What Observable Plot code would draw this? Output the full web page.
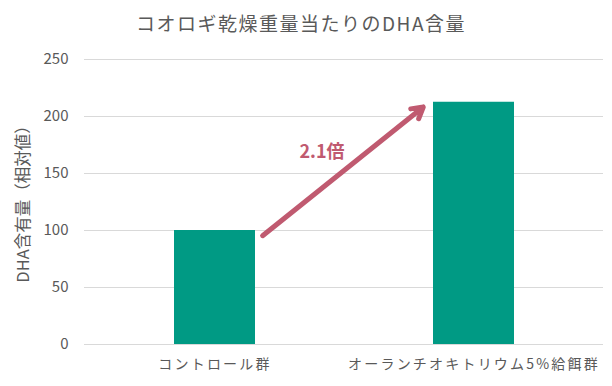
<!DOCTYPE html>
<html><head><meta charset="utf-8">
<script src="https://cdn.jsdelivr.net/npm/d3@7"></script>
<script src="https://cdn.jsdelivr.net/npm/@observablehq/plot@0.6"></script>
<style>
body{margin:0;background:#fff;font-family:"Noto Sans CJK JP","Noto Sans",sans-serif;}
#title{height:44px;line-height:46px;text-align:center;font-size:19px;color:#595959;padding-right:10px;letter-spacing:1.5px;}
g[aria-label="x-axis tick label"] text{letter-spacing:2.2px;}
</style></head>
<body>
<div id="title">コオロギ乾燥重量当たりのDHA含量</div>
<div id="chart"></div>
<script>
const categories = ["コントロール群", "オーランチオキトリウム5%給餌群"];
const values = [100, 212.5];
const yTicks = [0, 50, 100, 150, 200, 250];
const yLabel = "DHA含有量（相対値）";
const ratioLabel = "2.1倍";
// arrow: line through the two bar centres, endpoints
const arrowFrom = ["コントロール群", 62];
const arrowTo = ["オーランチオキトリウム5%給餌群", 244];

const data = categories.map((c, i) => ({category: c, value: values[i]}));
const gray = "#595959";

const chart = Plot.plot({
  width: 612,
  height: 342,
  marginTop: 15,
  marginBottom: 42,
  marginLeft: 84,
  marginRight: 9,
  style: {fontFamily: '"Noto Sans CJK JP","Noto Sans",sans-serif', fontSize: "13px", color: gray, background: "#fff"},
  x: {domain: categories, paddingInner: 0.688, paddingOuter: 0.344, align: 0.5},
  y: {domain: [0, 250]},
  marks: [
    Plot.gridY(yTicks, {stroke: "#d9d9d9", strokeOpacity: 1, strokeWidth: 1}),
    Plot.axisY(yTicks, {tickSize: 0, tickPadding: 16, fontSize: 15, fill: gray, label: null}),
    Plot.axisX({tickSize: 0, tickPadding: 15, fontSize: 14, fill: gray, label: null}),
    Plot.barY(data, {x: "category", y: "value", fill: "#009a84"}),
    Plot.ruleY([0], {stroke: "#d9d9d9"}),
    Plot.arrow([{x1: arrowFrom[0], y1: arrowFrom[1], x2: arrowTo[0], y2: arrowTo[1]}], {
      x1: "x1", y1: "y1", x2: "x2", y2: "y2",
      stroke: "#c05a70", strokeWidth: 5, headLength: 3.8, headAngle: 60,
      insetStart: 61, insetEnd: 65, strokeLinecap: "round", strokeLinejoin: "miter"
    }),
    Plot.text([ratioLabel], {x: () => categories[0], y: () => 169, dx: 107, text: d => d,
      fill: "#c05a70", fontSize: 18, fontWeight: "bold"}),
    Plot.text([yLabel], {frameAnchor: "left", dx: -61, dy: -2, rotate: -90, textAnchor: "middle", text: d => d,
      fill: gray, fontSize: 16.5})
  ]
});
document.getElementById("chart").appendChild(chart);
</script>
</body></html>
